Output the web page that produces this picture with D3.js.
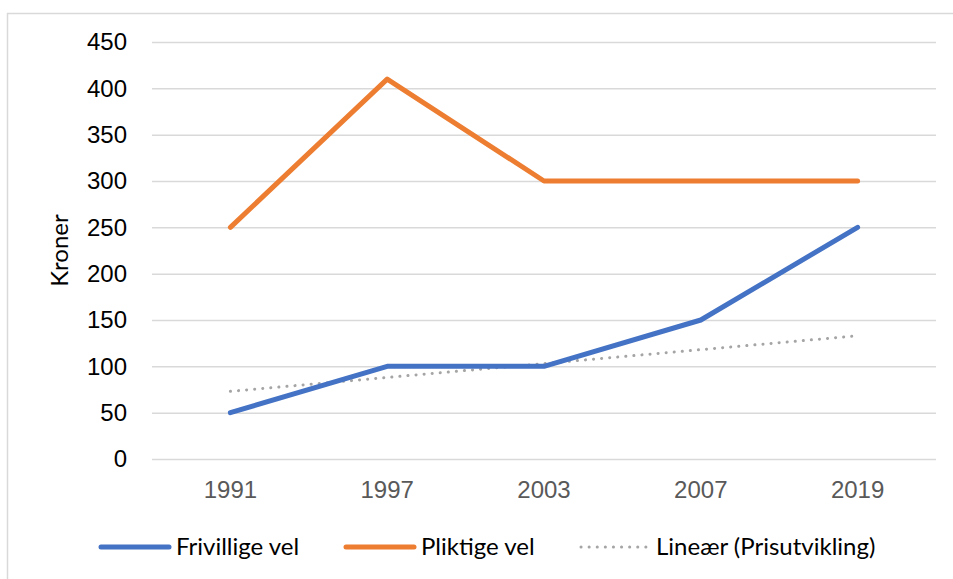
<!DOCTYPE html>
<html>
<head>
<meta charset="utf-8">
<script src="https://cdn.jsdelivr.net/npm/d3@7"></script>
<style>
  body { margin: 0; background: #fff; }
  svg { font-family: "Lato", "Open Sans", sans-serif; }
</style>
</head>
<body>
<svg id="chart" width="953" height="579"></svg>
<script>
var years = ["1991", "1997", "2003", "2007", "2019"];
var frivillige = [50, 100, 100, 150, 250];
var pliktige = [250, 410, 300, 300, 300];
var prisTrend = [73, 88, 103, 118, 133];
var yTicks = [0, 50, 100, 150, 200, 250, 300, 350, 400, 450];

var svg = d3.select("#chart"),
    WIDTH = 953, HEIGHT = 579,
    MARGINS = { top: 42, right: 17, bottom: 120, left: 152 };

// outer frame (only top and left edges show)
svg.append("path")
   .attr("d", "M7.5,579 L7.5,13.5 L953,13.5")
   .attr("fill", "none")
   .attr("stroke", "#d9d9d9")
   .attr("stroke-width", 1.5);

var xScale = d3.scaleBand().domain(years).range([MARGINS.left, WIDTH - MARGINS.right]).padding(0),
    yScale = d3.scaleLinear().domain([0, 450]).range([HEIGHT - MARGINS.bottom, MARGINS.top]);

var yAxis = d3.axisLeft(yScale).tickValues(yTicks).tickSize(-(WIDTH - MARGINS.right - MARGINS.left)).tickPadding(25);
var gy = svg.append("g")
   .attr("transform", "translate(" + MARGINS.left + ",0)")
   .call(yAxis);
gy.select(".domain").remove();
gy.selectAll(".tick line").attr("stroke", "#d9d9d9").attr("stroke-width", 1.5);
gy.selectAll(".tick text").attr("font-size", 24).attr("fill", "#000");

var xAxis = d3.axisBottom(xScale).tickSize(0).tickPadding(22);
var gx = svg.append("g")
   .attr("transform", "translate(0," + (HEIGHT - MARGINS.bottom) + ")")
   .call(xAxis);
gx.select(".domain").remove();
gx.selectAll(".tick text").attr("font-size", 24).attr("fill", "#595959");

svg.append("text")
   .attr("transform", "translate(68," + ((MARGINS.top + HEIGHT - MARGINS.bottom) / 2) + ") rotate(-90)")
   .attr("text-anchor", "middle")
   .attr("font-size", 24)
   .attr("fill", "#000")
   .text("Kroner");

var lineGen = d3.line()
   .x(function(d, i) { return xScale(years[i]) + xScale.bandwidth() / 2; })
   .y(function(d) { return yScale(d); });

svg.append("path")
   .attr("d", lineGen(prisTrend))
   .attr("fill", "none")
   .attr("stroke", "#a5a5a5")
   .attr("stroke-width", 3)
   .attr("stroke-linecap", "round")
   .attr("stroke-dasharray", "0.1 8");

svg.append("path")
   .attr("d", lineGen(frivillige))
   .attr("fill", "none")
   .attr("stroke", "#4472c4")
   .attr("stroke-width", 5)
   .attr("stroke-linecap", "round")
   .attr("stroke-linejoin", "round");

svg.append("path")
   .attr("d", lineGen(pliktige))
   .attr("fill", "none")
   .attr("stroke", "#ed7d31")
   .attr("stroke-width", 5)
   .attr("stroke-linecap", "round")
   .attr("stroke-linejoin", "round");

var legend = [
  { name: "Frivillige vel", color: "#4472c4", x: 101, dotted: false },
  { name: "Pliktige vel", color: "#ed7d31", x: 346, dotted: false },
  { name: "Lineær (Prisutvikling)", color: "#a5a5a5", x: 581, dotted: true }
];
var lg = svg.selectAll(".legend").data(legend).enter().append("g")
   .attr("transform", function(d) { return "translate(" + d.x + ",547)"; });
lg.append("line")
   .attr("x1", 0).attr("x2", 68).attr("y1", 0).attr("y2", 0)
   .attr("stroke", function(d) { return d.color; })
   .attr("stroke-width", function(d) { return d.dotted ? 3 : 5; })
   .attr("stroke-linecap", "round")
   .attr("stroke-dasharray", function(d) { return d.dotted ? "0.1 8" : null; });
lg.append("text")
   .attr("x", 75).attr("y", 8)
   .attr("font-size", 24)
   .attr("fill", "#000")
   .text(function(d) { return d.name; });
</script>
</body>
</html>
